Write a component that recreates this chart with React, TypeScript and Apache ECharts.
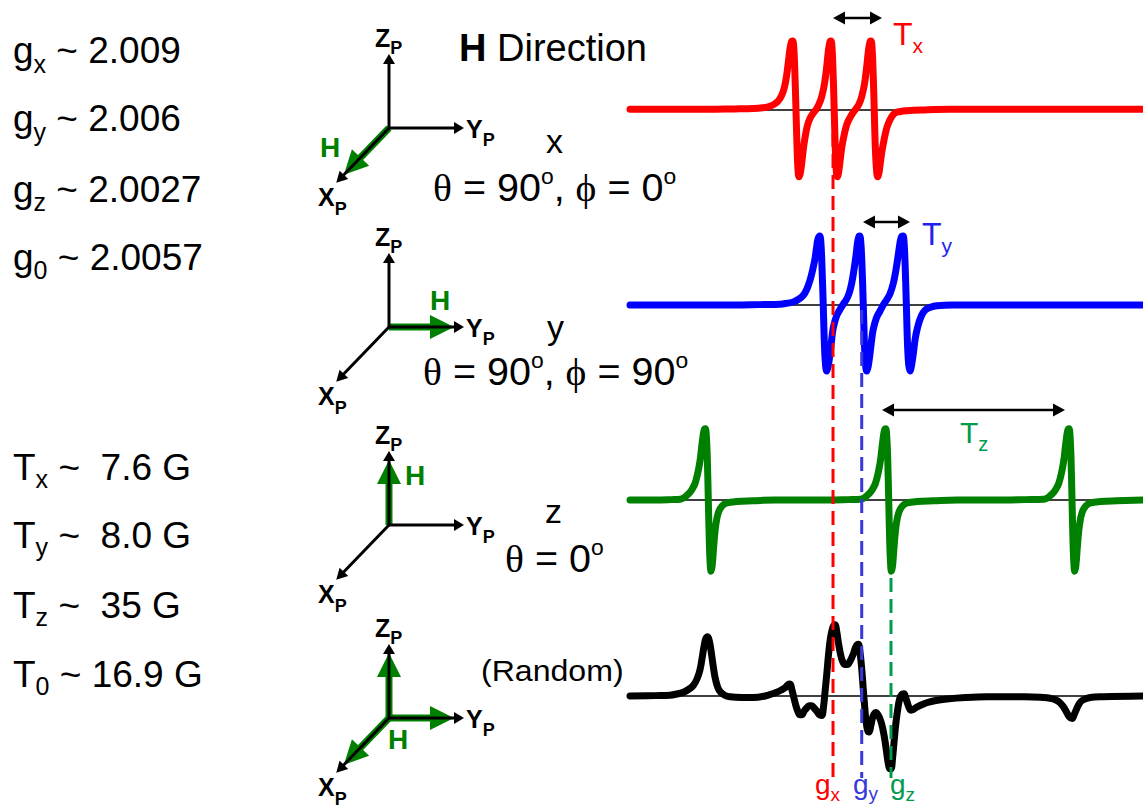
import React, { useEffect, useRef } from "react";
import * as echarts from "echarts";

const SANS = "'Liberation Sans', Arial, Helvetica, sans-serif";
const SERIF = "'Liberation Serif', 'DejaVu Serif', serif";

// Field axis in Gauss (0 = left edge of spectra window)
const FIELD_MIN = 0;
const FIELD_MAX = 98.65;

// EPR spectra: [field (G), amplitude (a.u.)]
const xSpectrum: [number, number][] = [
  [0, 0], [15, 0], [20, 0.005], [23.71, 0.01], [25.5, 0.02], [26.9, 0.04], [28.0, 0.08], [28.8, 0.14], [29.48, 0.24],
  [30.0, 0.4], [30.4, 0.6], [30.75, 0.8], [31.05, 0.9], [31.29, 0.91], [31.5, 0.82], [31.7, 0.5], [31.92, -0.01],
  [32.12, -0.5], [32.3, -0.8], [32.5, -0.9], [32.75, -0.85], [33.02, -0.72], [33.35, -0.52], [33.65, -0.38],
  [34.1, -0.22], [34.62, -0.12], [35.25, -0.05], [35.9, 0.01], [36.4, 0.08], [36.87, 0.17], [37.4, 0.34],
  [37.83, 0.57], [38.15, 0.78], [38.45, 0.9], [38.65, 0.91], [38.85, 0.82], [39.05, 0.5], [39.27, -0.01],
  [39.47, -0.5], [39.65, -0.8], [39.87, -0.9], [40.1, -0.85], [40.38, -0.7], [40.75, -0.5], [41.15, -0.35],
  [41.7, -0.2], [42.31, -0.11], [42.95, -0.04], [43.6, 0.02], [44.1, 0.08], [44.56, 0.17], [45.1, 0.34],
  [45.52, 0.57], [45.85, 0.78], [46.15, 0.9], [46.35, 0.91], [46.55, 0.82], [46.75, 0.5], [46.97, -0.01],
  [47.17, -0.5], [47.4, -0.8], [47.63, -0.9], [47.87, -0.85], [48.13, -0.72], [48.45, -0.56], [48.85, -0.41],
  [49.25, -0.28], [49.67, -0.19], [50.3, -0.1], [50.96, -0.05], [52, -0.03], [53.21, -0.02], [56, -0.01],
  [61.54, 0], [98.65, 0],
];
const ySpectrum: [number, number][] = [
  [0, 0], [20, 0], [25, 0.005], [28.85, 0.01], [30.3, 0.025], [31.4, 0.04], [32.5, 0.08], [33.33, 0.13],
  [34.0, 0.21], [34.62, 0.33], [35.1, 0.46], [35.58, 0.62], [35.9, 0.78], [36.15, 0.88], [36.48, 0.92],
  [36.7, 0.84], [36.9, 0.55], [37.17, -0.02], [37.4, -0.55], [37.6, -0.8], [37.83, -0.88], [38.1, -0.82],
  [38.46, -0.65], [38.8, -0.45], [39.1, -0.3], [39.7, -0.15], [40.38, -0.06], [41.0, 0.01], [41.67, 0.08],
  [42.2, 0.17], [42.63, 0.29], [43.05, 0.46], [43.46, 0.66], [43.75, 0.83], [44.0, 0.91], [44.17, 0.92],
  [44.38, 0.84], [44.6, 0.55], [44.87, -0.02], [45.1, -0.55], [45.3, -0.8], [45.52, -0.88], [45.8, -0.82],
  [46.15, -0.65], [46.5, -0.45], [46.79, -0.32], [47.4, -0.17], [48.08, -0.08], [48.7, 0.0], [49.37, 0.07],
  [50.0, 0.15], [50.6, 0.28], [51.1, 0.45], [51.55, 0.65], [51.9, 0.82], [52.2, 0.91], [52.5, 0.92],
  [52.7, 0.84], [52.9, 0.55], [53.15, -0.02], [53.38, -0.55], [53.6, -0.8], [53.85, -0.88], [54.1, -0.82],
  [54.48, -0.65], [54.85, -0.45], [55.33, -0.29], [56.0, -0.15], [56.73, -0.07], [57.8, -0.03], [58.98, -0.01],
  [62, 0], [98.65, 0],
];
const zSpectrum: [number, number][] = [
  [0, 0], [5, 0], [8, 0.005], [9.62, 0.01], [10.4, 0.03], [10.9, 0.06], [11.5, 0.1], [12.0, 0.15], [12.5, 0.22],
  [13.0, 0.35], [13.46, 0.52], [13.8, 0.72], [14.1, 0.88], [14.3, 0.94], [14.48, 0.95], [14.68, 0.85],
  [14.87, 0.55], [15.06, 0], [15.25, -0.55], [15.42, -0.85], [15.58, -0.95], [15.8, -0.88], [16.15, -0.57],
  [16.5, -0.33], [16.98, -0.17], [17.7, -0.08], [18.6, -0.04], [20.5, -0.02], [23.65, -0.01], [28, 0],
  [38, 0], [42, 0.005], [44.31, 0.01], [45.09, 0.03], [45.59, 0.06], [46.19, 0.1], [46.69, 0.15], [47.19, 0.22],
  [47.69, 0.35], [48.15, 0.52], [48.49, 0.72], [48.79, 0.88], [48.99, 0.94], [49.17, 0.95], [49.37, 0.85],
  [49.56, 0.55], [49.75, 0], [49.94, -0.55], [50.11, -0.85], [50.27, -0.95], [50.49, -0.88], [50.84, -0.57],
  [51.19, -0.33], [51.67, -0.17], [52.39, -0.08], [53.29, -0.04], [55.19, -0.02], [58.34, -0.01], [63, 0],
  [72, 0], [76, 0.005], [79.56, 0.01], [80.34, 0.03], [80.84, 0.06], [81.44, 0.1], [81.94, 0.15], [82.44, 0.22],
  [82.94, 0.35], [83.4, 0.52], [83.74, 0.72], [84.04, 0.88], [84.24, 0.94], [84.42, 0.95], [84.62, 0.85],
  [84.81, 0.55], [85.0, 0], [85.19, -0.55], [85.36, -0.85], [85.52, -0.95], [85.74, -0.88], [86.09, -0.57],
  [86.44, -0.33], [86.92, -0.17], [87.64, -0.08], [88.54, -0.04], [90.44, -0.02], [93.59, -0.01], [98.65, 0],
];
const randomSpectrum: [number, number][] = [
  [0, 0], [5, 0.005], [7.69, 0.01], [9.2, 0.03], [10.25, 0.05], [11.3, 0.09], [12.17, 0.14], [12.9, 0.23],
  [13.46, 0.35], [13.9, 0.52], [14.23, 0.66], [14.55, 0.76], [14.94, 0.79], [15.3, 0.72], [15.63, 0.58],
  [16.0, 0.4], [16.35, 0.25], [16.8, 0.13], [17.31, 0.06], [18.2, 0.01], [19.23, -0.01], [21.5, -0.02],
  [23.71, -0.02], [26, 0.0], [27.4, 0.03], [28.21, 0.05], [29.1, 0.08], [29.81, 0.11], [30.35, 0.15],
  [30.77, 0.16], [31.15, 0.08], [31.54, -0.03], [31.95, -0.14], [32.37, -0.22], [32.7, -0.25], [33.02, -0.25],
  [33.5, -0.2], [33.98, -0.16], [34.45, -0.13], [34.94, -0.13], [35.4, -0.16], [35.9, -0.2], [36.4, -0.25],
  [36.87, -0.26], [37.2, -0.15], [37.5, 0.05], [37.85, 0.3], [38.13, 0.52], [38.5, 0.75], [38.79, 0.86],
  [39.1, 0.93], [39.42, 0.95], [39.75, 0.86], [40.06, 0.72], [40.5, 0.55], [40.9, 0.46], [41.35, 0.42],
  [41.79, 0.42], [42.35, 0.47], [42.94, 0.56], [43.45, 0.66], [43.9, 0.69], [44.2, 0.6], [44.56, 0.36],
  [44.85, 0.1], [45.06, -0.08], [45.3, -0.28], [45.52, -0.4], [45.75, -0.47], [45.96, -0.48], [46.3, -0.4],
  [46.6, -0.3], [46.95, -0.24], [47.25, -0.22], [47.7, -0.25], [48.21, -0.33], [48.65, -0.45], [49.04, -0.6],
  [49.4, -0.78], [49.67, -0.9], [49.95, -0.97], [50.19, -0.97], [50.5, -0.82], [50.77, -0.62], [51.1, -0.38],
  [51.48, -0.18], [51.85, -0.04], [52.25, 0.02], [52.69, 0.03], [53.0, -0.02], [53.33, -0.09], [53.7, -0.16],
  [54.04, -0.19], [54.5, -0.18], [55.13, -0.15], [56.0, -0.12], [57.06, -0.09], [58.8, -0.06], [60.9, -0.04],
  [64.5, -0.02], [68.6, -0.01], [76, -0.01], [79.5, -0.02], [80.77, -0.03], [81.8, -0.05], [82.69, -0.09],
  [83.4, -0.15], [83.98, -0.22], [84.5, -0.28], [85.0, -0.3], [85.4, -0.25], [85.9, -0.17], [86.5, -0.09],
  [87.17, -0.05], [88.5, -0.02], [91.02, -0.01], [98.65, 0],
];

// g-values and splittings
const gSubs = ["x", "y", "z", "0"];
const gValues = ["2.009", "2.006", "2.0027", "2.0057"];
const tSubs = ["x", "y", "z", "0"];
const tValues = ["7.6 G", "8.0 G", "35 G", "16.9 G"];
const gLinePositions = [39.04, 44.56, 50.19]; // G positions of gx, gy, gz
const txArrow = [39.04, 48.46];
const tyArrow = [44.81, 53.85];
const tzArrow = [48.46, 83.65];

const RED = "#FF0000";
const BLUE = "#0000FF";
const GREEN = "#008000";
const LGREEN = "#009B4E";
const LBLUE = "#3838DC";

const measureCtx = typeof document !== "undefined" ? document.createElement("canvas").getContext("2d") : null;
function textWidth(t: string, size: number, family: string, weight: string) {
  if (!measureCtx) return t.length * size * 0.55;
  measureCtx.font = `${weight} ${size}px ${family}`;
  return measureCtx.measureText(t).width;
}

type Part = { t: string; s: number; dy?: number; serif?: boolean; bold?: boolean; color?: string };
function runText(x: number, base: number, parts: Part[], color = "#000", scaleX = 1, z = 50) {
  const children: any[] = [];
  let cx = 0;
  for (const p of parts) {
    const fam = p.serif ? SERIF : SANS;
    const wt = p.bold ? "bold" : "normal";
    const tokens = p.t.split(/( +)/);
    for (const tok of tokens) {
      if (!tok) continue;
      const w = textWidth(tok, p.s, fam, wt);
      if (tok.trim().length) {
        children.push({
          type: "text", z, silent: true, x: cx, y: (p.dy ?? 0) - 0.35 * p.s,
          style: { text: tok, fontSize: p.s, fontFamily: fam, fontWeight: wt, fill: p.color ?? color, align: "left", verticalAlign: "middle" },
        });
      }
      cx += w;
    }
  }
  return { type: "group", x, y: base, scaleX, z, children };
}

function line(x1: number, y1: number, x2: number, y2: number, stroke: string, lineWidth: number, z = 40, lineDash?: number[]) {
  return { type: "line", z, silent: true, shape: { x1, y1, x2, y2 }, style: { stroke, lineWidth, lineDash } };
}
function poly(points: number[][], fill: string, z = 40) {
  return { type: "polygon", z, silent: true, shape: { points }, style: { fill } };
}

function arrowEls(ox: number, oy: number, ux: number, uy: number, shaftEnd: number, baseT: number, tipT: number, half: number, color: string, w: number, z: number) {
  const px = -uy, py = ux;
  return [
    line(ox, oy, ox + ux * shaftEnd, oy + uy * shaftEnd, color, w, z),
    poly([
      [ox + ux * tipT, oy + uy * tipT],
      [ox + ux * baseT + px * half, oy + uy * baseT + py * half],
      [ox + ux * baseT - px * half, oy + uy * baseT - py * half],
    ], color, z),
  ];
}

function axesDiagram(ox: number, oy: number, h: string[], hl: [number, number]) {
  const els: any[] = [];
  const X: [number, number] = [-0.694, 0.72];
  const Y: [number, number] = [1, 0];
  const Z: [number, number] = [0, -1];
  const dirs: Record<string, [number, number]> = { x: X, y: Y, z: Z };
  for (const k of h) {
    const d = dirs[k];
    els.push(...arrowEls(ox, oy, d[0], d[1], 42, 41, 65, 12, GREEN, 7, 30));
  }
  els.push(...arrowEls(ox, oy, Z[0], Z[1], 66, 64, 74, 6, "#000", 3, 35));
  els.push(...arrowEls(ox, oy, Y[0], Y[1], 66, 65, 75, 6, "#000", 3, 35));
  els.push(...arrowEls(ox, oy, X[0], X[1], 66, 65, 76, 6, "#000", 3, 35));
  els.push(runText(ox - 14, oy - 81, [{ t: "Z", s: 25, bold: true }, { t: "P", s: 18, bold: true, dy: 7 }]));
  els.push(runText(ox + 77, oy + 10, [{ t: "Y", s: 25, bold: true }, { t: "P", s: 18, bold: true, dy: 8 }]));
  els.push(runText(ox - 71, oy + 78, [{ t: "X", s: 25, bold: true }, { t: "P", s: 18, bold: true, dy: 9 }]));
  els.push(runText(ox + hl[0], oy + hl[1], [{ t: "H", s: 28, bold: true }], GREEN));
  return els;
}

function dblArrow(x1: number, x2: number, y: number) {
  return [
    line(x1 + 8, y, x2 - 8, y, "#000", 2.5, 45),
    poly([[x1, y], [x1 + 12, y - 6.5], [x1 + 12, y + 6.5]], "#000", 45),
    poly([[x2, y], [x2 - 12, y - 6.5], [x2 - 12, y + 6.5]], "#000", 45),
  ];
}

function buildGraphics(toX: (v: number) => number) {
  const els: any[] = [];
  const gBase = [63.3, 131.7, 202, 270];
  gValues.forEach((v, i) =>
    els.push(runText(13, gBase[i], [{ t: "g", s: 37 }, { t: gSubs[i], s: 25, dy: 9 }, { t: " ~ " + v, s: 37 }]))
  );
  const tBase = [480, 548, 618, 687];
  tValues.forEach((v, i) =>
    els.push(runText(13, tBase[i], [{ t: "T", s: 37 }, { t: tSubs[i], s: 25, dy: 8 }, { t: " ~" + (i < 3 ? "  " : " ") + v, s: 37 }]))
  );
  els.push(runText(459, 61, [{ t: "H", s: 38, bold: true }, { t: " Direction", s: 38 }]));

  els.push(...axesDiagram(389, 128, ["x"], [-69, 29]));
  els.push(...axesDiagram(389, 327, ["y"], [41, -17]));
  els.push(...axesDiagram(389, 525, ["z"], [16, -40]));
  els.push(...axesDiagram(389, 718, ["x", "y", "z"], [-1, 31]));

  const sup = (t: string): Part => ({ t, s: 22, dy: -17 });
  els.push(runText(546, 153, [{ t: "x", s: 34 }]));
  els.push(runText(433, 201, [{ t: "θ", s: 38, serif: true }, { t: " = 90", s: 38 }, sup("o"), { t: ", ", s: 38 }, { t: "ϕ", s: 38, serif: true }, { t: " = 0", s: 38 }, sup("o")], "#000", 1.04));
  els.push(runText(547, 339, [{ t: "y", s: 34 }]));
  els.push(runText(423, 385, [{ t: "θ", s: 38, serif: true }, { t: " = 90", s: 38 }, sup("o"), { t: ", ", s: 38 }, { t: "ϕ", s: 38, serif: true }, { t: " = 90", s: 38 }, sup("o")], "#000", 1.04));
  els.push(runText(545, 523, [{ t: "z", s: 34 }]));
  els.push(runText(505, 572, [{ t: "θ", s: 38, serif: true }, { t: " = 0", s: 38 }, sup("o")], "#000", 1.04));
  els.push(runText(481, 681, [{ t: "(Random)", s: 30 }], "#000", 1.07));

  // splitting arrows and labels
  els.push(...dblArrow(toX(txArrow[0]), toX(txArrow[1]), 18));
  els.push(...dblArrow(toX(tyArrow[0]), toX(tyArrow[1]), 222));
  els.push(...dblArrow(toX(tzArrow[0]), toX(tzArrow[1]), 410));
  els.push(runText(893, 45, [{ t: "T", s: 32 }, { t: "x", s: 21, dy: 8 }], RED));
  els.push(runText(922, 245, [{ t: "T", s: 32 }, { t: "y", s: 21, dy: 8 }], "#2020F0"));
  els.push(runText(960, 443, [{ t: "T", s: 30 }, { t: "z", s: 20, dy: 8 }], LGREEN));

  // g-value dashed markers
  const dashColors = [RED, LBLUE, LGREEN];
  const dashTops = [112, 310, 578];
  gLinePositions.forEach((g, i) => {
    const px = toX(g);
    els.push(line(px, dashTops[i], px, 778, dashColors[i], 3, 60, [14, 7]));
  });
  els.push(runText(815, 794, [{ t: "g", s: 28 }, { t: "x", s: 19, dy: 7 }], RED));
  els.push(runText(853, 794, [{ t: "g", s: 28 }, { t: "y", s: 19, dy: 6 }], LBLUE));
  els.push(runText(890, 794, [{ t: "g", s: 28 }, { t: "z", s: 19, dy: 7 }], LGREEN));
  return els;
}

const baselines = [109.3, 305, 500, 696];
const traceColors = [RED, BLUE, GREEN, "#000"];
const traces = [xSpectrum, ySpectrum, zSpectrum, randomSpectrum];

function baseOption(): any {
  return {
    animation: false,
    grid: baselines.map((b) => ({ left: 630, width: 513, top: b - 105, height: 210 })),
    xAxis: baselines.map((_, i) => ({
      type: "value", gridIndex: i, min: FIELD_MIN, max: FIELD_MAX,
      axisLine: { show: true, onZero: true, lineStyle: { color: "#000", width: 1.5 } },
      axisTick: { show: false }, axisLabel: { show: false }, splitLine: { show: false },
    })),
    yAxis: baselines.map((_, i) => ({ type: "value", gridIndex: i, min: -1.4, max: 1.4, show: false })),
    series: traces.map((d, i) => ({
      type: "line", xAxisIndex: i, yAxisIndex: i, data: d, symbol: "none", showSymbol: false,
      smooth: 0.4, silent: true, z: 3,
      lineStyle: { color: traceColors[i], width: 7, cap: "round", join: "round" },
    })),
  };
}

export default function App() {
  const ref = useRef<HTMLDivElement>(null);
  useEffect(() => {
    const chart = echarts.init(ref.current!, undefined, { renderer: "svg" });
    chart.setOption(baseOption());
    const toX = (v: number) => chart.convertToPixel({ xAxisIndex: 0 }, v) as number;
    chart.setOption({ graphic: { elements: buildGraphics(toX) } });
    return () => chart.dispose();
  }, []);
  return <div ref={ref} style={{ position: "absolute", left: 0, top: 0, width: 1143, height: 808 }} />;
}
